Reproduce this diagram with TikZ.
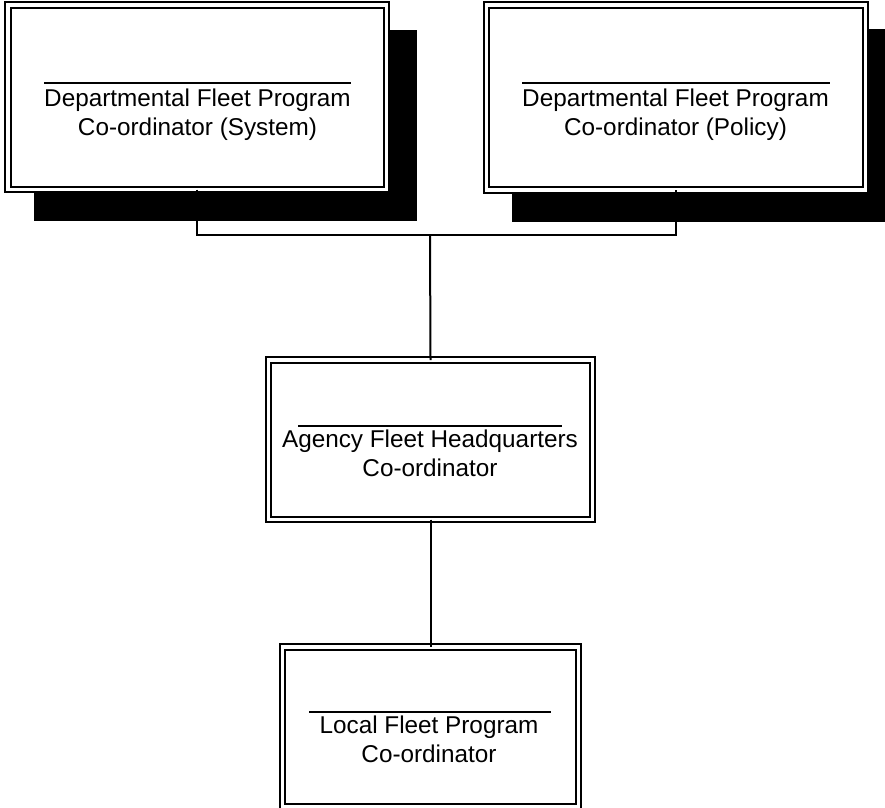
\documentclass[tikz,border=0pt]{standalone}
\usepackage{fontspec}
\setmainfont{Liberation Sans}
\begin{document}
\begin{tikzpicture}[x=1pt,y=-1pt,
  box/.style={draw,double,double distance=3.5pt,line width=2pt,fill=white,inner sep=0pt,outer sep=0pt},
  lbl/.style={anchor=base,inner sep=0pt,font=\fontsize{24.3}{29}\selectfont},
  rule/.style={line width=1.8pt},
  conn/.style={line width=2pt}]
\useasboundingbox (0,0) rectangle (885,807);
% shadows
\fill (34,30) rectangle (417,221);
\fill (512,29) rectangle (897,222);
% boxes
\node[box,minimum width=378.5pt,minimum height=184.5pt] (sys) at (197.25,97.25) {};
\node[box,minimum width=379pt,minimum height=185pt] (pol) at (676,97.5) {};
\node[box,minimum width=324pt,minimum height=159.5pt] (agy) at (430.5,439.75) {};
\node[box,minimum width=296pt,minimum height=159.5pt] (loc) at (430.5,726.75) {};
% texts
\node[lbl] (s1) at (197.5,106) {Departmental Fleet Program};
\node[lbl] (s2) at (197.5,135) {Co-ordinator (System)};
\node[lbl] (p1) at (675.5,106) {Departmental Fleet Program};
\node[lbl] (p2) at (675.5,135) {Co-ordinator (Policy)};
\node[lbl] (a1) at (430,447) {Agency Fleet Headquarters};
\node[lbl] (a2) at (430,476) {Co-ordinator};
\node[lbl] (l1) at (429,733) {Local Fleet Program};
\node[lbl] (l2) at (429,762) {Co-ordinator};
% overlines
\draw[rule] (44,83) -- (351,83);
\draw[rule] (522,83) -- (830,83);
\draw[rule] (298,426) -- (562,426);
\draw[rule] (309,712) -- (551,712);
% connectors
\coordinate (j) at (430,235);
\draw[conn] (sys.south) |- (j) -| (pol.south);
\draw[conn] (j) -- (agy.north);
\draw[conn] (agy.south) -- (loc.north);
\end{tikzpicture}
\end{document}
